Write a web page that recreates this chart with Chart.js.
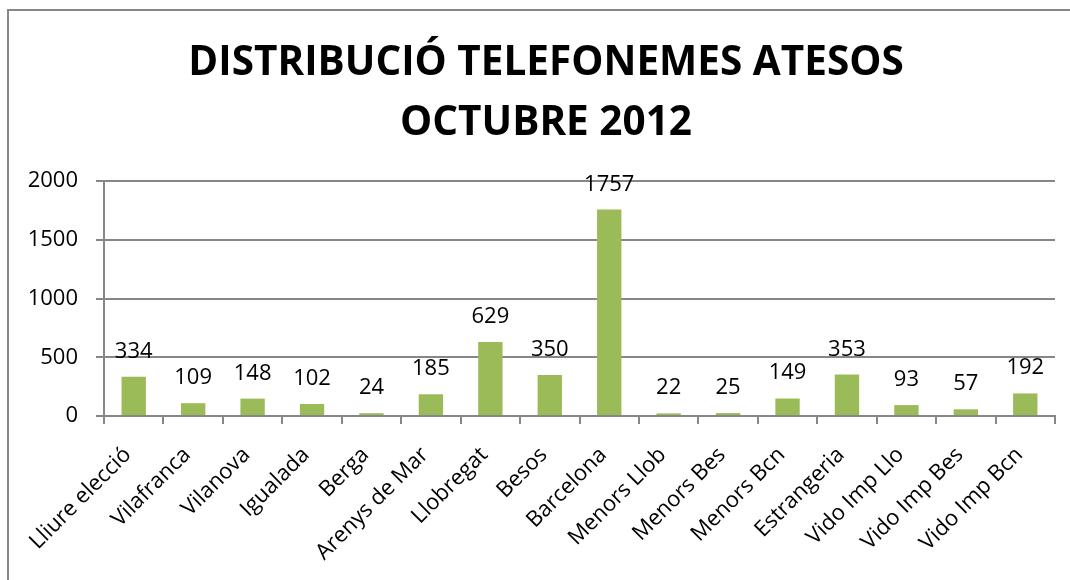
<!DOCTYPE html>
<html>
<head>
<meta charset="utf-8">
<script src="https://cdn.jsdelivr.net/npm/chart.js@4"></script>
<style>
  html, body { margin: 0; padding: 0; background: #fff; overflow: hidden; }
  #frame {
    position: absolute; left: 7px; top: 9px; width: 1200px; height: 700px;
    border-top: 2px solid #878787; border-left: 2px solid #878787;
  }
  #wrap { position: absolute; left: 0; top: 0; width: 1070px; height: 580px; }
</style>
</head>
<body>
<div id="frame"></div>
<div id="wrap"><canvas id="chart" width="1070" height="580"></canvas></div>
<script>
// Chart data
const titleLines = ['DISTRIBUCIÓ TELEFONEMES ATESOS', 'OCTUBRE 2012'];
const categories = ['Lliure elecció', 'Vilafranca', 'Vilanova', 'Igualada', 'Berga',
  'Arenys de Mar', 'Llobregat', 'Besos', 'Barcelona', 'Menors Llob', 'Menors Bes',
  'Menors Bcn', 'Estrangeria', 'Vido Imp Llo', 'Vido Imp Bes', 'Vido Imp Bcn'];
const calls = [334, 109, 148, 102, 24, 185, 629, 350, 1757, 22, 25, 149, 353, 93, 57, 192];
const yTicks = [0, 500, 1000, 1500, 2000];

const fontFamily = "'Open Sans', sans-serif";
const gray = '#878787';

// Two-line title, centred a bit left of the plot like the original
const chartTitle = {
  id: 'chartTitle',
  afterDraw(chart) {
    const ctx = chart.ctx;
    ctx.save();
    ctx.font = 'bold 40.5px ' + fontFamily;
    ctx.fillStyle = '#000';
    ctx.textAlign = 'center';
    ctx.textBaseline = 'alphabetic';
    ctx.fillText(titleLines[0], 546, 75);
    ctx.fillText(titleLines[1], 546, 135);
    ctx.restore();
  }
};

// Draws the value above each bar
const barValues = {
  id: 'barValues',
  afterDatasetsDraw(chart) {
    const ctx = chart.ctx;
    const meta = chart.getDatasetMeta(0);
    ctx.save();
    ctx.font = '22px ' + fontFamily;
    ctx.fillStyle = '#000';
    ctx.textAlign = 'center';
    ctx.textBaseline = 'alphabetic';
    meta.data.forEach((bar, i) => {
      ctx.fillText(String(calls[i]), bar.x, bar.y - 19);
    });
    ctx.restore();
  }
};

new Chart(document.getElementById('chart'), {
  type: 'bar',
  data: {
    labels: categories,
    datasets: [{
      data: calls,
      backgroundColor: '#9BBB59',
      borderWidth: 0,
      barPercentage: 0.41,
      categoryPercentage: 1
    }]
  },
  options: {
    responsive: false,
    animation: false,
    layout: { padding: { left: 3, right: 15, top: 181, bottom: 0 } },
    plugins: {
      legend: { display: false },
      tooltip: { enabled: false },
      title: { display: false }
    },
    scales: {
      x: {
        offset: true,
        grid: { display: true, drawOnChartArea: false, drawTicks: true, tickLength: 8, color: gray, lineWidth: 2 },
        border: { color: gray, width: 2 },
        ticks: {
          color: '#000',
          font: { family: fontFamily, size: 22 },
          minRotation: 45, maxRotation: 45, autoSkip: false,
          padding: 18, labelOffset: -6
        },
        afterFit(scale) { scale.height = 164; }
      },
      y: {
        min: 0, max: 2000,
        afterBuildTicks(scale) { scale.ticks = yTicks.map(v => ({ value: v })); },
        grid: { color: gray, lineWidth: 2, tickLength: 8 },
        border: { color: gray, width: 2 },
        ticks: {
          color: '#000',
          font: { family: fontFamily, size: 22 },
          padding: 18,
          callback: v => String(v)
        },
        afterFit(scale) { scale.width = 101; }
      }
    }
  },
  plugins: [barValues, chartTitle]
});
</script>
</body>
</html>
